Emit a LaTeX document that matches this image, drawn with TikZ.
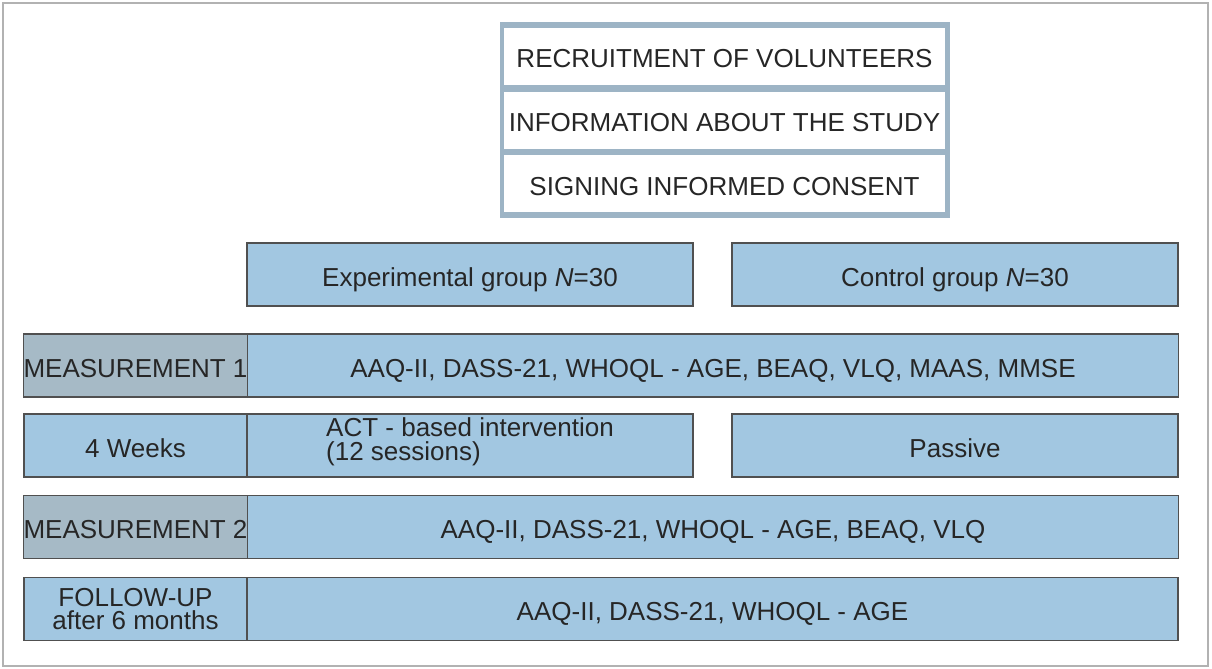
\documentclass[tikz,border=0pt]{standalone}
\usepackage{fontspec}
\setmainfont{Liberation Sans}
\usetikzlibrary{positioning}

\definecolor{boxblue}{HTML}{A2C7E1}
\definecolor{labelgray}{HTML}{A6BAC6}
\definecolor{framegray}{HTML}{9DB4C5}
\definecolor{edgegray}{HTML}{505050}

\tikzset{
  cell/.style={draw=edgegray, line width=0.6pt, fill=boxblue, inner sep=0pt, outer sep=0pt,
    minimum height=31.5pt, text=black!85, font=\fontsize{13}{11.6}\selectfont},
  oneline/.style={text height=11.5pt, text depth=0pt},
  labelcell/.style={cell, oneline, fill=labelgray, minimum width=111.5pt},
  widecell/.style={cell, oneline, minimum width=465.5pt},
  halfcell/.style={cell, minimum width=223pt},
  stepbox/.style={fill=white, inner sep=0pt, minimum width=220.5pt, minimum height=28.5pt,
    oneline, text=black!85, font=\fontsize{13}{14}\selectfont}
}

\begin{document}
\begin{tikzpicture}[x=0.5pt, y=-0.5pt]
  \useasboundingbox (0,0) rectangle (1212,669);

  % Outer frame
  \draw[gray!60, line width=0.6pt] (3,3) rectangle (1208,666);

  % Enrolment steps
  \node[fill=framegray, minimum width=225pt, minimum height=98pt, inner sep=0pt] (intro) at (725,120) {};
  \node[stepbox] (recruit) at (724.5,56.5) {RECRUITMENT OF VOLUNTEERS};
  \node[stepbox] (info)    at (724.5,120)  {INFORMATION ABOUT THE STUDY};
  \node[stepbox] (consent) at (724.5,183.5) {SIGNING INFORMED CONSENT};

  % Groups
  \node[halfcell, oneline] (expgroup)  at (470,274.5) {Experimental group \textit{N}=30};
  \node[halfcell, oneline] (ctrlgroup) at (955,274.5) {Control group \textit{N}=30};

  % Measurement 1
  \node[labelcell] (meas1) at (135.5,365.5) {MEASUREMENT 1};
  \node[widecell, right=0pt of meas1] (meas1tests) {AAQ-II, DASS-21, WHOQL - AGE, BEAQ, VLQ, MAAS, MMSE};

  % Intervention period
  \node[cell, oneline, minimum width=111.5pt] (weeks) at (135.5,445.5) {4 Weeks};
  \node[halfcell, right=0pt of weeks, align=left, text depth=6.5pt] (actint) {ACT - based intervention\\(12 sessions)};
  \node[halfcell, oneline] (passive) at (955,445.5) {Passive};

  % Measurement 2
  \node[labelcell] (meas2) at (135.5,527) {MEASUREMENT 2};
  \node[widecell, right=0pt of meas2] (meas2tests) {AAQ-II, DASS-21, WHOQL - AGE, BEAQ, VLQ};

  % Follow-up
  \node[cell, minimum width=111.5pt, align=center] (followup) at (135.5,609) {FOLLOW-UP\\after 6 months};
  \node[widecell, right=0pt of followup] (futests) {AAQ-II, DASS-21, WHOQL - AGE};

\end{tikzpicture}
\end{document}
